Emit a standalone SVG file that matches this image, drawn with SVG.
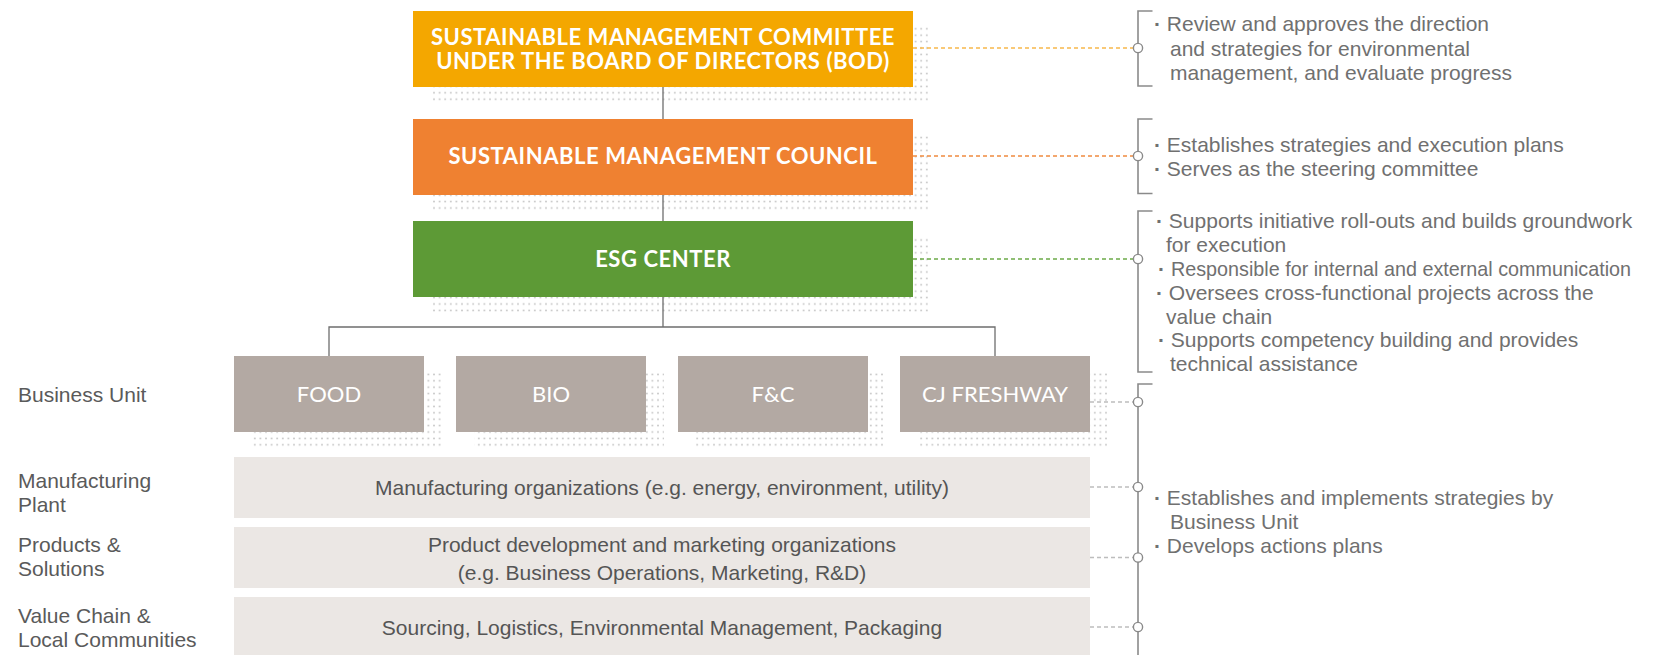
<svg xmlns="http://www.w3.org/2000/svg" width="1661" height="655" viewBox="0 0 1661 655">
<defs>
<pattern id="dots" patternUnits="userSpaceOnUse" width="5.6" height="6.4">
<circle cx="2.8" cy="3.2" r="1" fill="#c6c6c6"/>
</pattern>
</defs>
<style>
.shadow{fill:url(#dots)}
.title{font-family:Lato,"Open Sans","Liberation Sans",sans-serif;font-weight:700;font-size:22px;letter-spacing:0.55px;fill:#ffffff;text-anchor:middle}
.bu{font-family:Lato,"Open Sans","Liberation Sans",sans-serif;font-weight:400;font-size:22px;fill:#ffffff;text-anchor:middle}
.bar{fill:#ebe7e4}
.bartxt{font-family:"Liberation Sans",Arial,sans-serif;font-size:21px;fill:#555555;text-anchor:middle}
.lbl{font-family:"Liberation Sans",Arial,sans-serif;font-size:21px;fill:#5a5a5a}
.note{font-family:"Liberation Sans",Arial,sans-serif;font-size:21px;fill:#707070}
.b{font-weight:700}
.link{stroke:#6e6e6e;stroke-width:1.3;fill:none}
.bracket{stroke:#8a8a8a;stroke-width:1.6;fill:none}
.knob{fill:#ffffff;stroke:#8a8a8a;stroke-width:1.4}
.dash{stroke-width:1.5;stroke-dasharray:4 3;fill:none}
</style>
<g id="node-committee">
<rect class="shadow" x="430" y="27" width="500" height="76"/>
<rect x="413" y="11" width="500" height="76" fill="#f4a700"/>
<text class="title" x="663" y="44.5">SUSTAINABLE MANAGEMENT COMMITTEE</text>
<text class="title" x="663" y="69">UNDER THE BOARD OF DIRECTORS (BOD)</text>
</g>
<g id="node-council">
<rect class="shadow" x="430" y="135" width="500" height="76"/>
<rect x="413" y="119" width="500" height="76" fill="#ef8131"/>
<text class="title" x="663" y="164">SUSTAINABLE MANAGEMENT COUNCIL</text>
</g>
<g id="node-esg">
<rect class="shadow" x="430" y="237" width="500" height="76"/>
<rect x="413" y="221" width="500" height="76" fill="#5d9a36"/>
<text class="title" x="663" y="267">ESG CENTER</text>
</g>
<g id="node-food">
<rect class="shadow" x="252" y="372" width="190" height="76"/>
<rect x="234" y="356" width="190" height="76" fill="#b3a9a3"/>
<text class="bu" x="329" y="402">FOOD</text>
</g>
<g id="node-bio">
<rect class="shadow" x="474" y="372" width="190" height="76"/>
<rect x="456" y="356" width="190" height="76" fill="#b3a9a3"/>
<text class="bu" x="551" y="402">BIO</text>
</g>
<g id="node-fc">
<rect class="shadow" x="696" y="372" width="190" height="76"/>
<rect x="678" y="356" width="190" height="76" fill="#b3a9a3"/>
<text class="bu" x="773" y="402">F&amp;C</text>
</g>
<g id="node-freshway">
<rect class="shadow" x="918" y="372" width="190" height="76"/>
<rect x="900" y="356" width="190" height="76" fill="#b3a9a3"/>
<text class="bu" x="995" y="402">CJ FRESHWAY</text>
</g>
<g id="node-manufacturing">
<rect class="bar" x="234" y="457" width="856" height="61"/>
<text class="bartxt" x="662" y="495">Manufacturing organizations (e.g. energy, environment, utility)</text>
</g>
<g id="node-products">
<rect class="bar" x="234" y="527" width="856" height="61"/>
<text class="bartxt" x="662" y="552">Product development and marketing organizations</text>
<text class="bartxt" x="662" y="580">(e.g. Business Operations, Marketing, R&amp;D)</text>
</g>
<g id="node-valuechain">
<rect class="bar" x="234" y="597" width="856" height="58"/>
<text class="bartxt" x="662" y="635">Sourcing, Logistics, Environmental Management, Packaging</text>
</g>
<g id="row-labels">
<text class="lbl" x="18" y="402">Business Unit</text>
<text class="lbl" x="18" y="487.5">Manufacturing</text>
<text class="lbl" x="18" y="511.5">Plant</text>
<text class="lbl" x="18" y="552">Products &amp;</text>
<text class="lbl" x="18" y="576">Solutions</text>
<text class="lbl" x="18" y="623">Value Chain &amp;</text>
<text class="lbl" x="18" y="647">Local Communities</text>
</g>
<g id="connectors">
<line class="link" x1="663" y1="87" x2="663" y2="119"/>
<line class="link" x1="663" y1="195" x2="663" y2="221"/>
<line class="link" x1="663" y1="297" x2="663" y2="327"/>
<polyline class="link" stroke="#555" points="329,356 329,327 995,327 995,356"/>
<line class="dash" stroke="#f7b84b" x1="913" y1="48" x2="1133.5" y2="48"/>
<line class="dash" stroke="#f08a3f" x1="913" y1="156" x2="1133.5" y2="156"/>
<line class="dash" stroke="#6caa48" x1="913" y1="259" x2="1133.5" y2="259"/>
<line class="dash" stroke="#bdbdbd" x1="1090" y1="402" x2="1133.5" y2="402"/>
<line class="dash" stroke="#bdbdbd" x1="1090" y1="487" x2="1133.5" y2="487"/>
<line class="dash" stroke="#bdbdbd" x1="1090" y1="557.5" x2="1133.5" y2="557.5"/>
<line class="dash" stroke="#bdbdbd" x1="1090" y1="627" x2="1133.5" y2="627"/>
<path class="bracket" d="M1152.5,11 H1138 V86 H1152.5"/>
<path class="bracket" d="M1152.5,119 H1138 V193.5 H1152.5"/>
<path class="bracket" d="M1152.5,211 H1138 V372 H1152.5"/>
<path class="bracket" d="M1152.5,384 H1138 V655"/>
<circle class="knob" cx="1138" cy="48" r="4.6"/>
<circle class="knob" cx="1138" cy="156" r="4.6"/>
<circle class="knob" cx="1138" cy="259" r="4.6"/>
<circle class="knob" cx="1138" cy="402" r="4.6"/>
<circle class="knob" cx="1138" cy="487" r="4.6"/>
<circle class="knob" cx="1138" cy="557.5" r="4.6"/>
<circle class="knob" cx="1138" cy="627" r="4.6"/>
</g>
<g id="note-committee">
<text class="note" x="1154" y="31"><tspan class="b">·</tspan> Review and approves the direction</text>
<text class="note" x="1170" y="55.5">and strategies for environmental</text>
<text class="note" x="1170" y="80">management, and evaluate progress</text>
</g>
<g id="note-council">
<text class="note" x="1154" y="151.5"><tspan class="b">·</tspan> Establishes strategies and execution plans</text>
<text class="note" x="1154" y="176"><tspan class="b">·</tspan> Serves as the steering committee</text>
</g>
<g id="note-esg">
<text class="note" x="1156" y="227.5"><tspan class="b">·</tspan> Supports initiative roll-outs and builds groundwork</text>
<text class="note" x="1166" y="251.5">for execution</text>
<text class="note" x="1158" y="276"><tspan class="b">·</tspan></text>
<text class="note" x="1171" y="276" textLength="460" lengthAdjust="spacingAndGlyphs">Responsible for internal and external communication</text>
<text class="note" x="1156" y="299.5"><tspan class="b">·</tspan> Oversees cross-functional projects across the</text>
<text class="note" x="1166" y="323.5">value chain</text>
<text class="note" x="1158" y="347"><tspan class="b">·</tspan>  Supports competency building and provides</text>
<text class="note" x="1170" y="371">technical assistance</text>
</g>
<g id="note-business">
<text class="note" x="1154" y="505"><tspan class="b">·</tspan> Establishes and implements strategies by</text>
<text class="note" x="1170" y="528.5">Business Unit</text>
<text class="note" x="1154" y="553"><tspan class="b">·</tspan> Develops actions plans</text>
</g>
</svg>
